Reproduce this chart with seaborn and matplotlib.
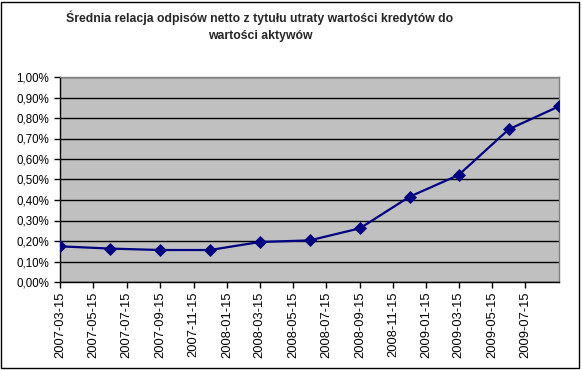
import pandas as pd
import seaborn as sns
import matplotlib.pyplot as plt
import matplotlib.dates as mdates
from matplotlib.patches import Rectangle
from matplotlib.ticker import FuncFormatter, MultipleLocator

# quarterly observations
dates = ["2007-03-15", "2007-06-15", "2007-09-15", "2007-12-15",
         "2008-03-15", "2008-06-15", "2008-09-15", "2008-12-15",
         "2009-03-15", "2009-06-15", "2009-09-15"]
ratio = [0.174, 0.163, 0.156, 0.156, 0.195, 0.203, 0.262, 0.416,
         0.522, 0.745, 0.857]
tick_dates = ["2007-03-15", "2007-05-15", "2007-07-15", "2007-09-15",
              "2007-11-15", "2008-01-15", "2008-03-15", "2008-05-15",
              "2008-07-15", "2008-09-15", "2008-11-15", "2009-01-15",
              "2009-03-15", "2009-05-15", "2009-07-15"]
title = "Średnia relacja odpisów netto z tytułu utraty wartości kredytów do\nwartości aktywów"

df = pd.DataFrame({"date": pd.to_datetime(dates), "ratio": ratio})

sns.set_theme(style="white")
plt.rcParams["font.family"] = ["Liberation Sans", "DejaVu Sans"]

fig = plt.figure(figsize=(5.82, 3.70), dpi=100)
ax = fig.add_axes([60 / 582, 88 / 370, 499 / 582, 205 / 370])
ax.set_facecolor("#C0C0C0")

sns.lineplot(data=df, x="date", y="ratio", ax=ax, color="#000080",
             linewidth=1.6, marker="D", markersize=6.5,
             markeredgecolor="#000080", markeredgewidth=0.5, zorder=3)

ax.set_ylim(0, 1.0)
ax.yaxis.set_major_locator(MultipleLocator(0.1))
ax.yaxis.set_major_formatter(FuncFormatter(lambda v, p: f"{v:.2f}%".replace(".", ",")))
ax.grid(axis="y", color="black", linewidth=1)
ax.set_axisbelow(True)

ax.set_xlim(pd.Timestamp("2007-03-15"), pd.Timestamp("2009-09-15"))
ax.set_xticks(pd.to_datetime(tick_dates))
ax.xaxis.set_major_formatter(mdates.DateFormatter("%Y-%m-%d"))
ax.tick_params(axis="x", rotation=90, labelsize=9.3, pad=3)
ax.tick_params(axis="y", labelsize=8.3, pad=4)
ax.tick_params(axis="both", colors="black", direction="out",
               length=4, width=1, bottom=True, left=True)
ax.set_xlabel("")
ax.set_ylabel("")

for side in ["left", "bottom"]:
    ax.spines[side].set_color("black")
    ax.spines[side].set_linewidth(1)
for side in ["top", "right"]:
    ax.spines[side].set_color("#808080")
    ax.spines[side].set_linewidth(1)

fig.text(260 / 582, 1 - 26 / 370, title, ha="center", va="center",
         fontsize=8.8, fontweight="bold", linespacing=1.55)

fig.patches.append(Rectangle((1 / 582, 2 / 370), 578 / 582, 366 / 370,
                             transform=fig.transFigure, fill=False,
                             edgecolor="black", linewidth=1))

fig.savefig("out.png", dpi=100)
